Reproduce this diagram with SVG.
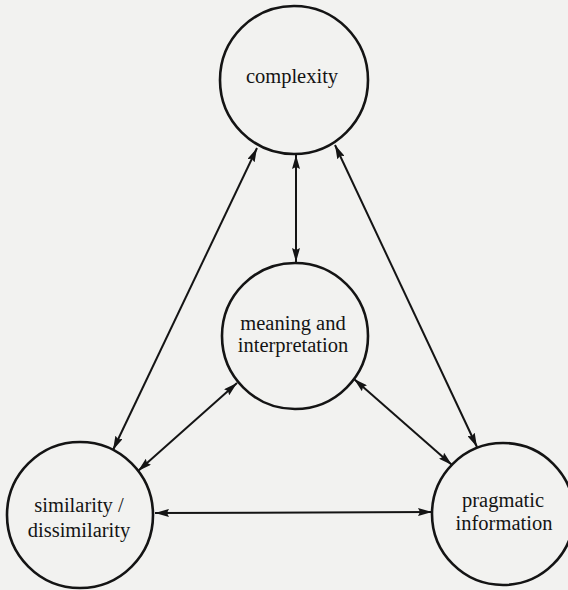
<svg xmlns="http://www.w3.org/2000/svg" width="568" height="590" viewBox="0 0 568 590">
  <style>
    .node circle { fill: none; stroke: #141414; stroke-width: 2.6; }
    .node text { font-family: "Liberation Serif", Tinos, "Times New Roman", "DejaVu Serif", serif; font-size: 20.5px; fill: #141414; text-anchor: middle; }
    .conn line { stroke: #141414; stroke-width: 2; fill: none; marker-start: url(#ah); marker-end: url(#ah); }
  </style>
  <defs>
    <marker id="ah" viewBox="0 0 14 8" refX="14" refY="4" markerWidth="14" markerHeight="8" markerUnits="userSpaceOnUse" orient="auto-start-reverse">
      <path d="M0,0 L14,4 L0,8 L2,4 z" fill="#141414"/>
    </marker>
  </defs>
  <rect x="0" y="0" width="568" height="590" fill="#f2f2f0"/>

  <g id="connectors" class="conn">
    <line x1="257" y1="148" x2="113" y2="450"/>
    <line x1="296" y1="155" x2="296" y2="262"/>
    <line x1="335" y1="145" x2="477" y2="447"/>
    <line x1="237" y1="383" x2="138" y2="471"/>
    <line x1="354" y1="379" x2="452" y2="465"/>
    <line x1="155" y1="513" x2="432" y2="512"/>
  </g>

  <g id="complexity" class="node">
    <circle cx="294" cy="80" r="74"/>
    <text x="292" y="83" font-family="Liberation Serif, serif">complexity</text>
  </g>

  <g id="meaning" class="node">
    <circle cx="295" cy="336" r="73"/>
    <text x="293" y="330">meaning and</text>
    <text x="293" y="352">interpretation</text>
  </g>

  <g id="similarity" class="node">
    <circle cx="80" cy="515" r="73"/>
    <text x="79" y="512">similarity /</text>
    <text x="79" y="537">dissimilarity</text>
  </g>

  <g id="pragmatic" class="node">
    <circle cx="503" cy="514" r="71"/>
    <text x="503" y="507">pragmatic</text>
    <text x="504" y="530">information</text>
  </g>
</svg>
